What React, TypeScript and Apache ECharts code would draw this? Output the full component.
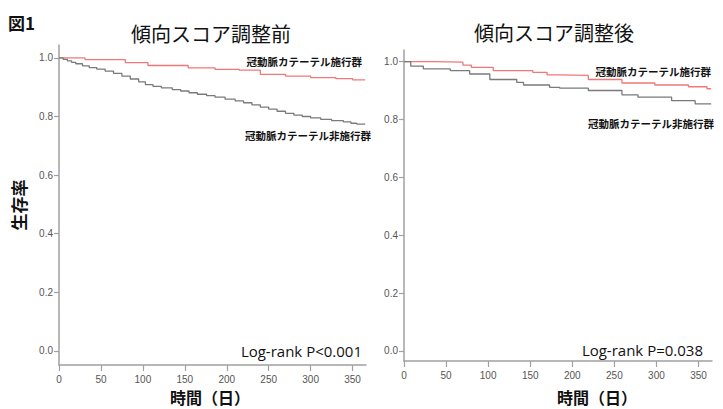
import React, { useEffect, useRef } from "react";
import * as echarts from "echarts";

// ---- data ----
const yTicks = [0, 0.2, 0.4, 0.6, 0.8, 1.0];
const xTicks = [0, 50, 100, 150, 200, 250, 300, 350];

const titles = ["傾向スコア調整前", "傾向スコア調整後"];
const groupNames = ["冠動脈カテーテル施行群", "冠動脈カテーテル非施行群"];
const pValues = ["Log-rank P<0.001", "Log-rank P=0.038"];

// before adjustment: [day, survival]
const beforeTreated: [number, number][] = [
  [0, 1.0], [31, 0.994], [79, 0.984], [106, 0.974], [154, 0.966], [186, 0.961],
  [215, 0.958], [240, 0.944], [270, 0.938], [300, 0.933], [330, 0.929], [350, 0.925], [365, 0.924],
];
const beforeUntreated: [number, number][] = [
  [0, 1.0], [5, 0.995], [10, 0.99], [15, 0.985], [20, 0.98], [28, 0.973], [36, 0.967],
  [45, 0.962], [55, 0.955], [65, 0.947], [75, 0.938], [85, 0.928], [95, 0.918],
  [103, 0.909], [112, 0.903], [122, 0.898], [135, 0.892], [145, 0.887], [155, 0.881],
  [165, 0.876], [176, 0.871], [186, 0.866], [198, 0.859], [210, 0.853], [220, 0.847],
  [230, 0.84], [240, 0.832], [250, 0.825], [260, 0.818], [270, 0.811], [280, 0.805],
  [290, 0.8], [300, 0.795], [312, 0.79], [325, 0.786], [339, 0.782], [348, 0.777],
  [355, 0.774], [365, 0.774],
];

// after adjustment
const afterTreated: [number, number][] = [
  [0, 1.0], [35, 0.998], [70, 0.988], [80, 0.98], [106, 0.969], [153, 0.963],
  [170, 0.954], [185, 0.952], [219, 0.938], [259, 0.926], [298, 0.919], [338, 0.913],
  [360, 0.906], [365, 0.906],
];
const afterUntreated: [number, number][] = [
  [0, 1.0], [8, 0.984], [23, 0.975], [55, 0.969], [78, 0.957], [102, 0.938],
  [134, 0.928], [142, 0.919], [173, 0.911], [185, 0.908], [219, 0.9], [259, 0.885],
  [278, 0.877], [318, 0.865], [346, 0.854], [365, 0.853],
];

const RED = "#f07878";
const GRAY = "#7a7a7a";
const AXIS = "#a0a0a0";
const JP = '"Noto Sans CJK JP", "Noto Sans", sans-serif';

export default function App() {
  const ref = useRef<HTMLDivElement>(null);
  useEffect(() => {
    if (!ref.current) return;
    const chart = echarts.init(ref.current, null, { renderer: "svg" });

    const grids = [
      { left: 59, top: 45, width: 307, height: 320 },
      { left: 404, top: 50, width: 308, height: 311 },
    ];
    const yRanges = [
      { min: -0.048, max: 1.044 },
      { min: -0.035, max: 1.04 },
    ];

    const xAxis = grids.map((_, i) => ({
      type: "value",
      gridIndex: i,
      min: 0,
      max: 366,
      axisLine: { show: true, onZero: false, lineStyle: { color: AXIS, width: 1.5 } },
      axisTick: { show: true, length: 6, customValues: xTicks, lineStyle: { color: AXIS, width: 1.2 } },
      axisLabel: {
        customValues: xTicks,
        color: "#555",
        fontSize: 10,
        margin: 9,
        fontFamily: "Liberation Sans, Arial, sans-serif",
      },
      splitLine: { show: false },
    }));

    const yAxis = grids.map((_, i) => ({
      type: "value",
      gridIndex: i,
      min: yRanges[i].min,
      max: yRanges[i].max,
      axisLine: { show: true, onZero: false, lineStyle: { color: AXIS, width: 1.5 } },
      axisTick: { show: true, length: 5, customValues: yTicks, lineStyle: { color: AXIS, width: 1.2 } },
      axisLabel: {
        customValues: yTicks,
        formatter: (v: number) => v.toFixed(1),
        color: "#555",
        fontSize: 10,
        margin: 6,
        fontFamily: "Liberation Sans, Arial, sans-serif",
      },
      splitLine: { show: false },
    }));

    const mk = (data: [number, number][], idx: number, color: string) => ({
      type: "line",
      xAxisIndex: idx,
      yAxisIndex: idx,
      data,
      step: "end",
      showSymbol: false,
      symbol: "none",
      lineStyle: { color, width: 1.3 },
      silent: true,
    });

    const txt = (
      text: string, x: number, y: number, size: number, opts: any = {}
    ) => ({
      type: "text",
      x,
      y,
      style: {
        text,
        fontSize: size,
        fontFamily: JP,
        fill: "#111",
        textAlign: "center",
        textVerticalAlign: "middle",
        verticalAlign: "middle",
        ...opts,
      },
    });

    chart.setOption({
      animation: false,
      backgroundColor: "#fff",
      grid: grids,
      xAxis,
      yAxis,
      series: [
        mk(beforeTreated, 0, RED),
        mk(beforeUntreated, 0, GRAY),
        mk(afterTreated, 1, RED),
        mk(afterUntreated, 1, GRAY),
      ],
      graphic: [
        txt("図1", 8, 22, 17, { textAlign: "left", fontWeight: "bold" }),
        txt(titles[0], 211, 33, 20),
        txt(titles[1], 554, 32, 20),
        {
          type: "text",
          x: 18,
          y: 205,
          rotation: Math.PI / 2,
          style: {
            text: "生存率",
            fontSize: 17,
            fontWeight: "bold",
            fontFamily: JP,
            fill: "#111",
            align: "center",
            verticalAlign: "middle",
          },
        },
        txt(groupNames[0], 362, 61, 10.5, { textAlign: "right", fontWeight: "bold" }),
        txt(groupNames[1], 371, 135, 10.5, { textAlign: "right", fontWeight: "bold" }),
        txt(groupNames[0], 711, 71, 10.5, { textAlign: "right", fontWeight: "bold" }),
        txt(groupNames[1], 714, 123, 10.5, { textAlign: "right", fontWeight: "bold" }),
        txt(pValues[0], 362, 351, 15, { textAlign: "right", fontFamily: '"Open Sans", sans-serif' }),
        txt(pValues[1], 703, 350, 15, { textAlign: "right", fontFamily: '"Open Sans", sans-serif' }),
        txt("時間（日）", 210, 397, 16, { fontWeight: "bold" }),
        txt("時間（日）", 597, 397, 16, { fontWeight: "bold" }),
      ],
    });
    return () => chart.dispose();
  }, []);

  return (
    <div
      ref={ref}
      style={{ position: "fixed", left: 0, top: 0, width: 723, height: 409, background: "#fff" }}
    />
  );
}
